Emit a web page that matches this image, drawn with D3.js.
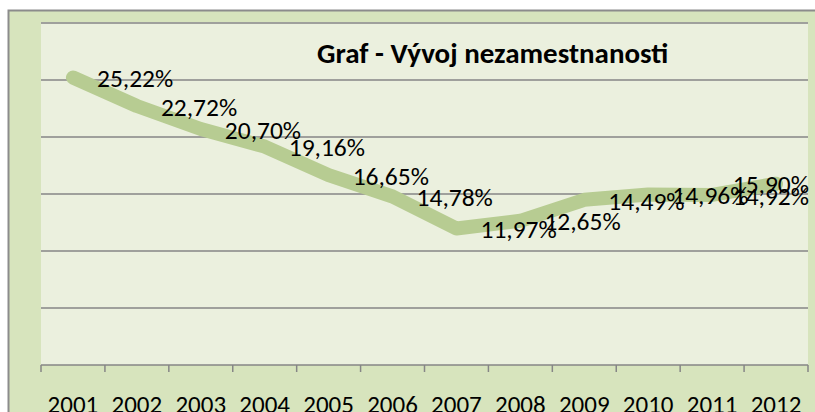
<!DOCTYPE html>
<meta charset="utf-8">
<style>
body { margin: 0; background: #fff; }
text { font-family: Carlito, Lato, "Open Sans", sans-serif; fill: #000; }
.grid line { stroke: #868686; stroke-width: 1.5px; }
.x-axis path, .x-axis line { stroke: #868686; stroke-width: 1.5px; }
.x-axis text { font-size: 25px; }
.lbl { font-size: 25.5px; }
.title { font-size: 29px; font-weight: bold; }
</style>
<body></body>
<script src="https://d3js.org/d3.v7.min.js"></script>
<script>

var years = ["2001", "2002", "2003", "2004", "2005", "2006", "2007", "2008", "2009", "2010", "2011", "2012"];
var rates = [25.22, 22.72, 20.70, 19.16, 16.65, 14.78, 11.97, 12.65, 14.49, 14.96, 14.92, 15.90];
var yTicks = [0, 5, 10, 15, 20, 25, 30];
var title = "Graf - Vývoj nezamestnanosti";

var width = 815,
    height = 412;

var plot = {left: 41, right: 808, top: 23, bottom: 365};

var svg = d3.select("body").append("svg")
    .attr("width", width)
    .attr("height", height);

// outer chart area
svg.append("rect")
    .attr("x", 8.5).attr("y", 10.5)
    .attr("width", width + 20).attr("height", height + 20)
    .attr("fill", "#d7e4bd")
    .attr("stroke", "#8c8c8c")
    .attr("stroke-width", 2);

// plot area
svg.append("rect")
    .attr("x", plot.left).attr("y", plot.top - 1)
    .attr("width", plot.right - plot.left).attr("height", plot.bottom - plot.top + 1)
    .attr("fill", "#ebf0de");

var x = d3.scaleBand()
    .domain(years)
    .range([plot.left, plot.right]);

var y = d3.scaleLinear()
    .domain([0, 30])
    .range([plot.bottom, plot.top]);

svg.append("g")
    .attr("class", "grid")
  .selectAll("line")
  .data(yTicks.slice(1))
  .enter().append("line")
    .attr("x1", plot.left)
    .attr("x2", plot.right)
    .attr("y1", function(d) { return y(d); })
    .attr("y2", function(d) { return y(d); });

// category axis, ticks between categories
var xAxis = svg.append("g")
    .attr("class", "x-axis")
    .attr("transform", "translate(0," + plot.bottom + ")");

xAxis.append("line")
    .attr("x1", plot.left).attr("x2", plot.right);

xAxis.selectAll(".tick")
  .data(years.concat(["end"]))
  .enter().append("line")
    .attr("class", "tick")
    .attr("x1", function(d, i) { return plot.left + i * x.bandwidth(); })
    .attr("x2", function(d, i) { return plot.left + i * x.bandwidth(); })
    .attr("y1", 0)
    .attr("y2", 7);

xAxis.selectAll("text")
  .data(years)
  .enter().append("text")
    .attr("x", function(d) { return x(d) + x.bandwidth() / 2; })
    .attr("y", 48)
    .attr("text-anchor", "middle")
    .text(function(d) { return d; });

var points = years.map(function(d, i) { return {year: d, value: rates[i]}; });

var line = d3.line()
    .x(function(d) { return x(d.year) + x.bandwidth() / 2; })
    .y(function(d) { return y(d.value); });

svg.append("path")
    .datum(points)
    .attr("d", line)
    .attr("fill", "none")
    .attr("stroke", "#b7cc92")
    .attr("stroke-width", 14)
    .attr("stroke-linecap", "round")
    .attr("stroke-linejoin", "round");

var fmt = d3.format(".2f");

svg.append("g")
  .selectAll("text")
  .data(points)
  .enter().append("text")
    .attr("class", "lbl")
    .attr("y", function(d) { return y(d.value); })
    .attr("dy", "0.38em")
    .text(function(d) { return fmt(d.value).replace(".", ",") + "%"; })
    .attr("x", function(d) {
      var px = x(d.year) + x.bandwidth() / 2 + 24;
      var w = this.getComputedTextLength();
      return Math.min(px, plot.right + 1 - w);
    });

svg.append("text")
    .attr("class", "title")
    .attr("x", 317)
    .attr("y", 63)
    .text(title);

</script>
